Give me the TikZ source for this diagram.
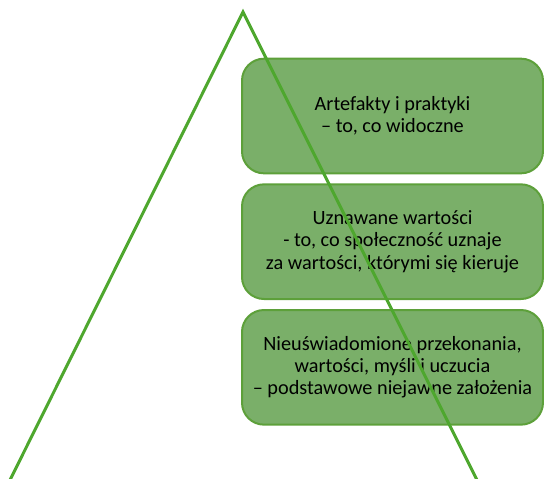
\documentclass[tikz,border=0pt]{standalone}
\usepackage{fontspec}
\setmainfont{Carlito}
\usetikzlibrary{positioning}
\definecolor{boxfill}{HTML}{7AAF69}
\definecolor{boxedge}{HTML}{5DA03A}
\definecolor{peak}{HTML}{4EA72E}

\begin{document}
\begin{tikzpicture}[x=0.75pt,y=-0.75pt,
  layer/.style={draw=boxedge, fill=boxfill, line width=1.5pt, rounded corners=16.5pt,
    minimum width=225.75pt, minimum height=86pt, inner sep=2pt, align=center,
    font=\fontsize{15.2}{16.6}\selectfont}]
\useasboundingbox (0,0) rectangle (544,479);
% warstwy kultury
\node[layer] (artefakty) at (392.5,116) {Artefakty i praktyki\\ – to, co widoczne};
\node[layer, below=6.75pt of artefakty] (wartosci) {Uznawane wartości\\ - to, co społeczność uznaje\\ za wartości, którymi się kieruje};
\node[layer, below=6.75pt of wartosci] (zalozenia) {Nieuświadomione przekonania,\\ wartości, myśli i uczucia\\ – podstawowe niejawne założenia};
% trojkat
\coordinate (szczyt) at (243,12);
\coordinate (lewy) at (10,480);
\coordinate (prawy) at (477,480);
\draw[peak, line width=2.25pt, line join=miter] (lewy) -- (szczyt) -- (prawy);
\end{tikzpicture}
\end{document}
